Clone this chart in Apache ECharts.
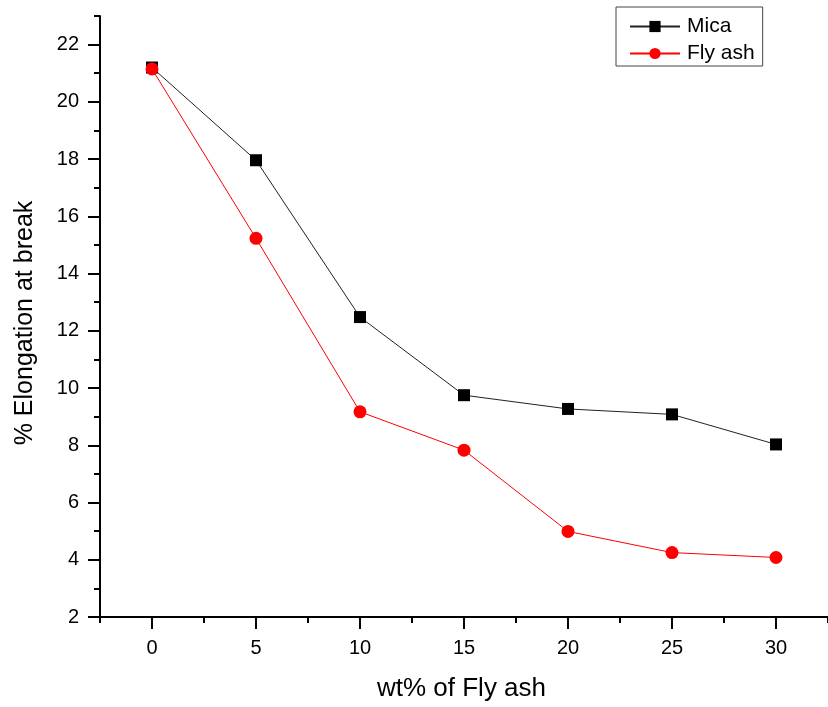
<!DOCTYPE html>
<html>
<head>
<meta charset="utf-8">
<script src="https://cdn.jsdelivr.net/npm/echarts@6/dist/echarts.min.js"></script>
<style>html,body{margin:0;padding:0;background:#fff}#c{width:828px;height:707px}</style>
</head>
<body>
<div id="c"></div>
<script>
const xValues = [0, 5, 10, 15, 20, 25, 30];
const mica = [21.2, 17.96, 12.48, 9.75, 9.27, 9.08, 8.03];
const flyAsh = [21.15, 15.23, 9.17, 7.83, 4.99, 4.25, 4.08];
const xMajorTicks = [0, 5, 10, 15, 20, 25, 30];
const xMinorTicks = [-2.5, 2.5, 7.5, 12.5, 17.5, 22.5, 27.5, 32.5];
const yMajorTicks = [2, 4, 6, 8, 10, 12, 14, 16, 18, 20, 22];
const yMinorTicks = [3, 5, 7, 9, 11, 13, 15, 17, 19, 21, 23];

const font = '"Liberation Sans", Arial, sans-serif';
const chart = echarts.init(document.getElementById('c'), null, {renderer: 'canvas'});
const axisLine = {show: true, onZero: false, lineStyle: {color: '#000', width: 2}};
chart.setOption({
  animation: false,
  backgroundColor: '#fff',
  grid: {left: 100, top: 16, bottom: 90, right: -8, containLabel: false},
  legend: {
    left: 616, top: 7,
    orient: 'vertical',
    borderColor: '#444', borderWidth: 1,
    padding: [9, 8, 2, 13],
    itemWidth: 50, itemHeight: 14, itemGap: 6,
    textStyle: {fontFamily: font, fontSize: 21, lineHeight: 21, color: '#000', padding: [0, 0, 0, 2]},
    data: ['Mica', 'Fly ash']
  },
  xAxis: [{
    type: 'value', min: -2.5, max: 32.5,
    name: 'wt% of Fly ash', nameLocation: 'middle', nameGap: 59,
    nameTextStyle: {fontFamily: font, fontSize: 26, color: '#000', padding: [0, 5, 0, 0]},
    axisLine: axisLine,
    axisTick: {show: true, inside: false, length: 12, lineStyle: {color: '#000', width: 2}, customValues: xMajorTicks},
    axisLabel: {fontFamily: font, fontSize: 20, color: '#000', margin: 21, customValues: xMajorTicks},
    splitLine: {show: false}
  }, {
    type: 'value', min: -2.5, max: 32.5, position: 'bottom',
    axisLine: {show: false, onZero: false},
    axisTick: {show: true, length: 6, lineStyle: {color: '#000', width: 2}, customValues: xMinorTicks},
    axisLabel: {show: false},
    splitLine: {show: false}
  }],
  yAxis: [{
    type: 'value', min: 2, max: 23,
    name: '% Elongation at break', nameLocation: 'middle', nameGap: 62,
    nameTextStyle: {fontFamily: font, fontSize: 25, color: '#000', padding: [0, 13, 0, 0]},
    axisLine: axisLine,
    axisTick: {show: true, length: 12, lineStyle: {color: '#000', width: 2}, customValues: yMajorTicks},
    axisLabel: {fontFamily: font, fontSize: 20, color: '#000', margin: 21, customValues: yMajorTicks},
    splitLine: {show: false}
  }, {
    type: 'value', min: 2, max: 23, position: 'left',
    axisLine: {show: false, onZero: false},
    axisTick: {show: true, length: 6, lineStyle: {color: '#000', width: 2}, customValues: yMinorTicks},
    axisLabel: {show: false},
    splitLine: {show: false}
  }],
  series: [{
    name: 'Mica', type: 'line', xAxisIndex: 0, yAxisIndex: 0,
    data: xValues.map((x, i) => [x, mica[i]]),
    symbol: 'rect', symbolSize: 12,
    lineStyle: {color: '#222', width: 1},
    itemStyle: {color: '#000'},
    z: 2
  }, {
    name: 'Fly ash', type: 'line', xAxisIndex: 0, yAxisIndex: 0,
    data: xValues.map((x, i) => [x, flyAsh[i]]),
    symbol: 'circle', symbolSize: 13,
    lineStyle: {color: '#ff0000', width: 1},
    itemStyle: {color: '#ff0000'},
    z: 3
  }]
});
</script>
</body>
</html>
